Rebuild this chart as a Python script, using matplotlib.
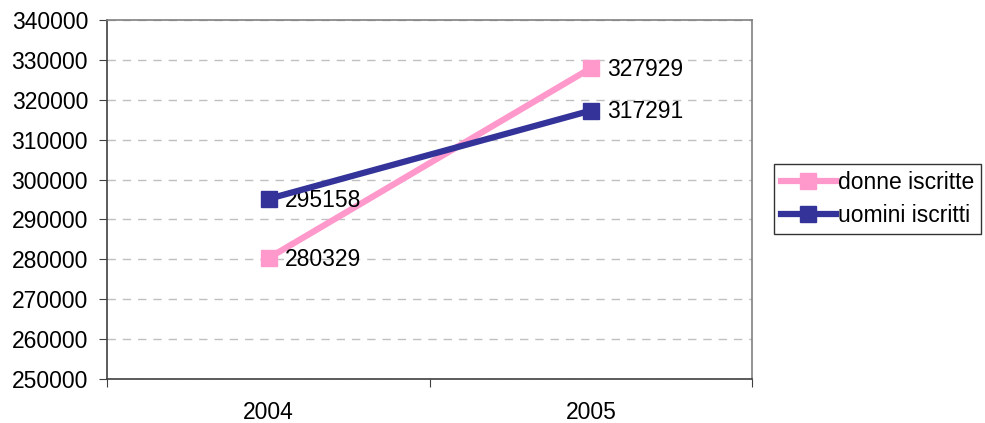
import matplotlib.pyplot as plt

plt.rcParams['font.family'] = ['Liberation Sans', 'DejaVu Sans']

years = ['2004', '2005']
donne = [280329, 327929]
uomini = [295158, 317291]
y_ticks = list(range(250000, 340001, 10000))

fig = plt.figure(figsize=(9.85, 4.23), dpi=100)
ax = fig.add_axes([0.1091, 0.104, 0.6543, 0.8487])

x = list(range(len(years)))
ax.plot(x, donne, color='#FF99CC', lw=4.5, marker='s', ms=11, label='donne iscritte', zorder=3)
ax.plot(x, uomini, color='#333399', lw=4.5, marker='s', ms=11, label='uomini iscritti', zorder=4)

for xi, v in zip(x, donne):
    ax.annotate(str(v), (xi, v), xytext=(12, -1), textcoords='offset points',
                va='center', ha='left', fontsize=16.5)
for xi, v in zip(x, uomini):
    ax.annotate(str(v), (xi, v), xytext=(12, -1), textcoords='offset points',
                va='center', ha='left', fontsize=16.5)

ax.set_xlim(-0.5, 1.5)
ax.set_ylim(250000, 340000)
ax.set_yticks(y_ticks)
ax.set_yticklabels([str(t) for t in y_ticks], fontsize=16.5)
ax.set_xticks([-0.5, 0.5, 1.5])
ax.set_xticklabels([])
ax.set_xticks(x, minor=True)
ax.set_xticklabels(years, minor=True, fontsize=16.5)
ax.tick_params(axis='x', which='minor', length=0, pad=16)
ax.tick_params(axis='x', which='major', length=6, direction='out', color='#404040')
ax.tick_params(axis='y', length=6, direction='out', color='#404040', pad=8)

ax.grid(axis='y', color='#C0C0C0', ls=(0, (6, 5)), lw=1)
ax.set_axisbelow(True)
for s in ['top', 'right']:
    ax.spines[s].set_color('#808080')
    ax.spines[s].set_linewidth(1.2)
for s in ['left', 'bottom']:
    ax.spines[s].set_color('#404040')
    ax.spines[s].set_linewidth(1.2)

leg = fig.legend(loc='upper left', bbox_to_anchor=(0.7858, 0.6123), fontsize=16.5,
                 frameon=True, fancybox=False, edgecolor='black', handlelength=2.4,
                 handletextpad=0.1, borderpad=0.3, labelspacing=0.45, borderaxespad=0)
leg.get_frame().set_linewidth(1)

fig.savefig('out.png', dpi=100)
